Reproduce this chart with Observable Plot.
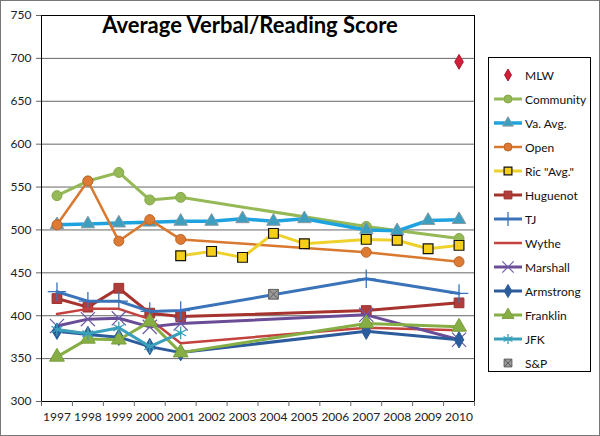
<!DOCTYPE html>
<html>
<head>
<meta charset="utf-8">
<script src="https://cdn.jsdelivr.net/npm/d3@7"></script>
<script src="https://cdn.jsdelivr.net/npm/@observablehq/plot@0.6"></script>
<style>
  html, body { margin: 0; padding: 0; background: #fff; }
  #wrap { position: relative; width: 600px; height: 436px; overflow: hidden; font-family: Lato, "DejaVu Sans", sans-serif; }
  #border { position: absolute; left: 0; top: 0; width: 598px; height: 434px; border: 1px solid #777; pointer-events: none; }
  #title { position: absolute; left: 90px; width: 320px; top: 11px; text-align: center; font-weight: bold; font-size: 22px; color: #000; white-space: nowrap; }
  #legend { position: absolute; left: 488px; top: 57px; width: 101px; height: 313px; border: 1px solid #000; background: #fff; }
  .item { position: absolute; left: 5px; height: 20px; display: flex; align-items: center; font-size: 12px; color: #111; white-space: nowrap; }
  .item svg { margin-right: 3px; }
</style>
</head>
<body>
<div id="wrap">
  <div id="chart"></div>
  <div id="title">Average Verbal/Reading Score</div>
  <div id="legend"></div>
  <div id="border"></div>
</div>
<script>
// ---- data ----
const years = [1997, 1998, 1999, 2000, 2001, 2002, 2003, 2004, 2005, 2006, 2007, 2008, 2009, 2010];
const yTicks = [300, 350, 400, 450, 500, 550, 600, 650, 700, 750];
const seriesNames = ["MLW", "Community", "Va. Avg.", "Open", "Ric \"Avg.\"", "Huguenot", "TJ", "Wythe", "Marshall", "Armstrong", "Franklin", "JFK", "S&P"];
const mlw       = [null, null, null, null, null, null, null, null, null, null, null, null, null, 696];
const community = [540, 557, 567, 535, 538, null, null, null, null, null, 504, null, null, 490];
const vaAvg     = [506, 507, 508, 509, 510, 510, 513, 510, 513, null, 500, 499, 511, 512];
const open      = [506, 557, 487, 512, 489, null, null, null, null, null, 474, null, null, 463];
const ricAvg    = [null, null, null, null, 470, 475, 468, 496, 484, null, 489, 488, 478, 482];
const huguenot  = [420, 410, 432, 403, 399, null, null, null, null, null, 406, null, null, 415];
const tj        = [428, 417, 417, 405, 406, null, null, null, null, null, 443, null, null, 426];
const wythe     = [402, 408, 408, 396, 368, null, null, null, null, null, 386, null, null, 383];
const marshall  = [388, 396, 397, 387, 391, null, null, null, null, null, 401, null, null, 372];
const armstrong = [382, 378, 375, 364, 357, null, null, null, null, null, 382, null, null, 372];
const franklin  = [352, 373, 372, 393, 357, null, null, null, null, null, 391, null, null, 387];
const jfk       = [384, 379, 386, 364, 380, null, null, null, null, null, null, null, null, null];
const sp        = [null, null, null, null, null, null, null, 425, null, null, null, null, null, null];
const seriesValues = [mlw, community, vaAvg, open, ricAvg, huguenot, tj, wythe, marshall, armstrong, franklin, jfk, sp];

// ---- styles ----
const boxX = {
  draw(ctx, size) {
    const s = Math.sqrt(size) / 2;
    ctx.moveTo(-s, -s); ctx.lineTo(s, -s); ctx.lineTo(s, s); ctx.lineTo(-s, s); ctx.closePath();
    ctx.moveTo(-s, -s); ctx.lineTo(s, s);
    ctx.moveTo(s, -s); ctx.lineTo(-s, s);
  }
};
const styles = {
  "MLW":        {line: null, lw: 0, symbol: "diamond", fill: "#d11f3a", stroke: "#a8172c", r: 4.5, sw: 1},
  "Community":  {line: "#95b956", lw: 3, symbol: "circle", fill: "#95b956", stroke: "#86a84a", r: 5, sw: 1},
  "Va. Avg.":   {line: "#1fa3de", lw: 3.5, symbol: "triangle", fill: "#3d9fbf", stroke: "#8797a0", r: 5, sw: 1},
  "Open":       {line: "#d9782f", lw: 2.5, symbol: "circle", fill: "#dd7a33", stroke: "#c0652a", r: 5, sw: 1},
  "Ric \"Avg.\"": {line: "#eed12a", lw: 3, symbol: "square", fill: "#f6cf1a", stroke: "#111", r: 5.5, sw: 1.2},
  "Huguenot":   {line: "#a7332f", lw: 3, symbol: "square", fill: "#b03d3a", stroke: "#9a302d", r: 5.5, sw: 1},
  "TJ":         {line: "#3b73b9", lw: 3, symbol: "plus", fill: "none", stroke: "#3b73b9", r: 6, sw: 1.3},
  "Wythe":      {line: "#c4423d", lw: 2.5, symbol: null},
  "Marshall":   {line: "#6a4c97", lw: 3, symbol: "times", fill: "none", stroke: "#6a5aa8", r: 6.5, sw: 1.2},
  "Armstrong":  {line: "#2d5c9c", lw: 3, symbol: "diamond", fill: "#2d5c9c", stroke: "#2d5c9c", r: 5, sw: 1},
  "Franklin":   {line: "#86ae45", lw: 3, symbol: "triangle", fill: "#86ae45", stroke: "#7a9f3d", r: 5.5, sw: 1},
  "JFK":        {line: "#3a9fba", lw: 3, symbol: "asterisk", fill: "none", stroke: "#3a9fba", r: 6, sw: 1.3},
  "S&P":        {line: null, lw: 0, symbol: boxX, fill: "#9a9a9a", stroke: "#5e5e5e", r: 5.5, sw: 1}
};

// ---- build table ----
const table = seriesNames.map((name, i) => years.map((yr, j) => ({series: name, year: yr, value: seriesValues[i][j]})).filter(d => d.value != null));

const marks = [
  Plot.gridY(yTicks, {stroke: "#666", strokeOpacity: 1, strokeWidth: 1}),
  Plot.frame({stroke: "#000", strokeWidth: 1}),
  Plot.axisY(yTicks, {tickSize: 5, tickPadding: 5, label: null, fontSize: 12, stroke: "#666"}),
  Plot.axisX(years.map(y => y - 0.5).concat([years[years.length - 1] + 0.5]), {tickSize: 5, tickFormat: () => "", label: null, stroke: "#666"}),
  Plot.axisX(years, {tickSize: 0, tickPadding: 11, tickFormat: d => String(d), label: null, fontSize: 12})
];
seriesNames.forEach((name, i) => {
  const s = styles[name];
  const data = table[i];
  if (s.line) marks.push(Plot.line(data, {x: "year", y: "value", stroke: s.line, strokeWidth: s.lw, strokeLinejoin: "round"}));
  if (s.symbol) marks.push(Plot.dot(data, {x: "year", y: "value", symbol: () => s.symbol, r: s.r, fill: s.fill, stroke: s.stroke, strokeWidth: s.sw}));
});

const chart = Plot.plot({
  width: 600, height: 436,
  marginLeft: 41, marginRight: 126, marginTop: 15, marginBottom: 35,
  x: {type: "linear", domain: [1996.5, 2010.5]},
  y: {domain: [300, 750]},
  symbol: {type: "identity"},
  style: {fontFamily: "Lato, sans-serif", fontSize: "12px", color: "#222", background: "white"},
  marks
});
document.getElementById("chart").appendChild(chart);

// ---- legend ----
const legend = document.getElementById("legend");
const symMap = {circle: d3.symbolCircle, triangle: d3.symbolTriangle, square: d3.symbolSquare, diamond: d3.symbolDiamond, plus: d3.symbolPlus, times: d3.symbolTimes, asterisk: d3.symbolAsterisk};
seriesNames.forEach((name, i) => {
  const s = styles[name];
  const item = document.createElement("div");
  item.className = "item";
  item.style.top = (7 + i * 24) + "px";
  const ns = "http://www.w3.org/2000/svg";
  const svg = document.createElementNS(ns, "svg");
  svg.setAttribute("width", 28); svg.setAttribute("height", 14);
  if (s.line) {
    const l = document.createElementNS(ns, "line");
    l.setAttribute("x1", 0); l.setAttribute("x2", 28); l.setAttribute("y1", 7); l.setAttribute("y2", 7);
    l.setAttribute("stroke", s.line); l.setAttribute("stroke-width", s.lw);
    svg.appendChild(l);
  }
  if (s.symbol) {
    const p = document.createElementNS(ns, "path");
    const t = typeof s.symbol === "string" ? symMap[s.symbol] : s.symbol;
    const r = s.r * 0.8;
    p.setAttribute("d", d3.symbol(t, r * r * Math.PI)());
    p.setAttribute("transform", "translate(14,7)");
    p.setAttribute("fill", s.fill); p.setAttribute("stroke", s.stroke); p.setAttribute("stroke-width", s.sw);
    svg.appendChild(p);
  }
  item.appendChild(svg);
  const span = document.createElement("span");
  span.textContent = name;
  item.appendChild(span);
  legend.appendChild(item);
});
</script>
</body>
</html>
